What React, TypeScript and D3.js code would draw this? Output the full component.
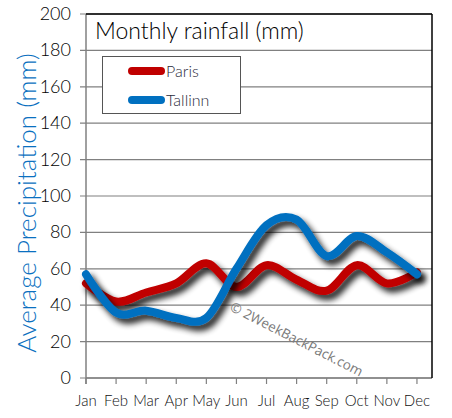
import React from "react";
import * as d3 from "d3";

const months = ["Jan", "Feb", "Mar", "Apr", "May", "Jun", "Jul", "Aug", "Sep", "Oct", "Nov", "Dec"];
const paris = [52, 42, 47, 52, 63, 50, 62, 54, 48, 62, 52, 58];
const tallinn = [57, 36, 37, 33, 33, 60, 84, 87, 67, 78, 69, 57];
const yTicks = [0, 20, 40, 60, 80, 100, 120, 140, 160, 180, 200];
const seriesNames = ["Paris", "Tallinn"];
const seriesColors = ["#c00000", "#0070c0"];

const W = 452, H = 418;
const L = 86, R = 432, T = 14, B = 378;
const FONT = "Lato, 'Open Sans', sans-serif";

export default function App() {
  const x = d3.scaleLinear().domain([0, 11.5]).range([L, R]);
  const y = d3.scaleLinear().domain([0, 200]).range([B, T]);
  const line = d3
    .line<number>()
    .x((_, i) => x(i))
    .y((d) => y(d))
    .curve(d3.curveCatmullRom.alpha(0));
  const series = [paris, tallinn];

  return (
    <svg width={W} height={H} style={{ position: "absolute", left: 0, top: 0, background: "#fff" }}>
      <defs>
        <filter id="sh" x="-20%" y="-20%" width="140%" height="160%">
          <feGaussianBlur in="SourceAlpha" stdDeviation="3" />
          <feOffset dx="4" dy="5" result="b" />
          <feComponentTransfer>
            <feFuncA type="linear" slope="0.9" />
          </feComponentTransfer>
          <feMerge>
            <feMergeNode />
            <feMergeNode in="SourceGraphic" />
          </feMerge>
        </filter>
      </defs>
      <rect x={0} y={0} width={W} height={H} fill="#fff" />
      {yTicks.map((t) => (
        <g key={t}>
          <line x1={L - 6} x2={R} y1={y(t)} y2={y(t)} stroke="#808080" strokeWidth={1.2} />
          <text x={71} y={y(t) + 6} textAnchor="end" fontFamily={FONT} fontWeight={300} fontSize={18} fill="#000">
            {t}
          </text>
        </g>
      ))}
      <line x1={L} x2={L} y1={T} y2={B + 6} stroke="#808080" strokeWidth={1.5} />
      <line x1={L} x2={R} y1={B} y2={B} stroke="#808080" strokeWidth={1.5} />
      <line x1={L} x2={R} y1={T} y2={T} stroke="#000" strokeWidth={1.5} />
      <line x1={R} x2={R} y1={T} y2={B} stroke="#000" strokeWidth={1.5} />
      {months.map((m, i) => (
        <g key={m}>
          <line x1={x(i)} x2={x(i)} y1={B} y2={B + 6} stroke="#808080" strokeWidth={1.2} />
          <text x={x(i)} y={406} textAnchor="middle" fontFamily={FONT} fontWeight={300} fontSize={15} fill="#111">
            {m}
          </text>
        </g>
      ))}
      <text x={95} y={39} fontFamily={FONT} fontWeight={300} fontSize={23} fill="#000">
        Monthly rainfall (mm)
      </text>
      <text
        transform={`translate(36, ${203}) rotate(-90)`}
        textAnchor="middle"
        fontFamily={FONT}
        fontWeight={300}
        fontSize={26}
        fill="#0a70c0"
      >
        Average Precipitation (mm)
      </text>
      <text
        transform="translate(229, 310) rotate(27)"
        fontFamily="'Open Sans', sans-serif"
        fontSize={13.5}
        fill="#7a7a7a"
      >
        © 2WeekBackPack.com
      </text>
      {series.map((s, k) => (
        <path
          key={k}
          d={line(s) || ""}
          fill="none"
          stroke={seriesColors[k]}
          strokeWidth={8}
          strokeLinecap="round"
          strokeLinejoin="round"
          filter="url(#sh)"
        />
      ))}
      <rect x={102.5} y={56.5} width={138} height={57} fill="#fff" stroke="#555" strokeWidth={1} />
      {seriesNames.map((n, k) => (
        <g key={n}>
          <line
            x1={132}
            x2={161}
            y1={71 + k * 29}
            y2={71 + k * 29}
            stroke={seriesColors[k]}
            strokeWidth={8}
            strokeLinecap="round"
          />
          <text x={166} y={77 + k * 29} fontFamily={FONT} fontWeight={300} fontSize={16} fill="#2a2a3a">
            {n}
          </text>
        </g>
      ))}
    </svg>
  );
}
